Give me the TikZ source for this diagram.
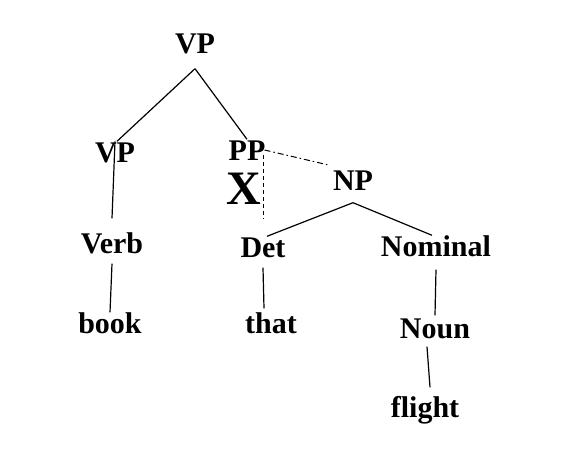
\documentclass[tikz,border=0pt]{standalone}
\usepackage{fontspec}
\setmainfont{Liberation Serif}
\tikzset{
  cat/.style={inner sep=0pt, text height=21pt, text depth=0pt,
    font=\bfseries\fontsize{30}{30}\selectfont},
  edge/.style={line width=1.2pt},
  trace/.style={line width=1pt, dash pattern=on 4pt off 3pt},
  move/.style={line width=1pt, dash pattern=on 6pt off 3pt on 1.5pt off 3pt}
}
\begin{document}
\begin{tikzpicture}[x=1pt, y=-1pt]
  \useasboundingbox (0,0) rectangle (576,457);
  % tree nodes
  \node[cat] (vp) at (195,43) {VP};
  \node[cat] (vpl) at (115,152) {VP};
  \node[cat] (pp) at (247,150) {PP};
  \node[cat] (np) at (353,180) {NP};
  \node[cat] (verb) at (112,243) {Verb};
  \node[cat] (det) at (263,247) {Det};
  \node[cat] (nominal) at (436,246) {Nominal};
  \node[cat] (book) at (110,323) {book};
  \node[cat] (that) at (271,323) {that};
  \node[cat] (noun) at (435,328) {Noun};
  \node[cat] (flight) at (425,407) {flight};
  \node[inner sep=0pt, text height=31pt, text depth=0pt,
    font=\bfseries\fontsize{48}{48}\selectfont] (x) at (244,189) {X};
  % branches
  \draw[edge] ([yshift=-15pt]vp.south) -- ([xshift=2pt]vpl.north);
  \draw[edge] ([yshift=-15pt]vp.south) -- (pp.north);
  \draw[edge] (vpl.north) -- ([yshift=14pt]verb.north);
  \draw[edge] ([yshift=-10pt]verb.south) -- (book.north);
  \draw[edge] ([yshift=-12pt]np.south) -- ([xshift=4pt]det.north);
  \draw[edge] ([yshift=-12pt]np.south) -- ([xshift=-4pt]nominal.north);
  \draw[edge] ([yshift=-10pt]det.south) -- ([xshift=-7pt,yshift=4pt]that.north);
  \draw[edge] ([yshift=-13pt]nominal.south) -- ([yshift=2pt]noun.north);
  \draw[edge] ([xshift=-8pt,yshift=-8pt]noun.south) -- ([xshift=5pt,yshift=9pt]flight.north);
  % moved PP
  \draw[move] ([xshift=-1pt]pp.east) -- ([xshift=-3pt,yshift=4pt]np.north west);
  \draw[trace] ([xshift=-2pt,yshift=-5pt]pp.east) -- ([xshift=-2pt,yshift=18pt]pp.east |- det.north);
\end{tikzpicture}
\end{document}
